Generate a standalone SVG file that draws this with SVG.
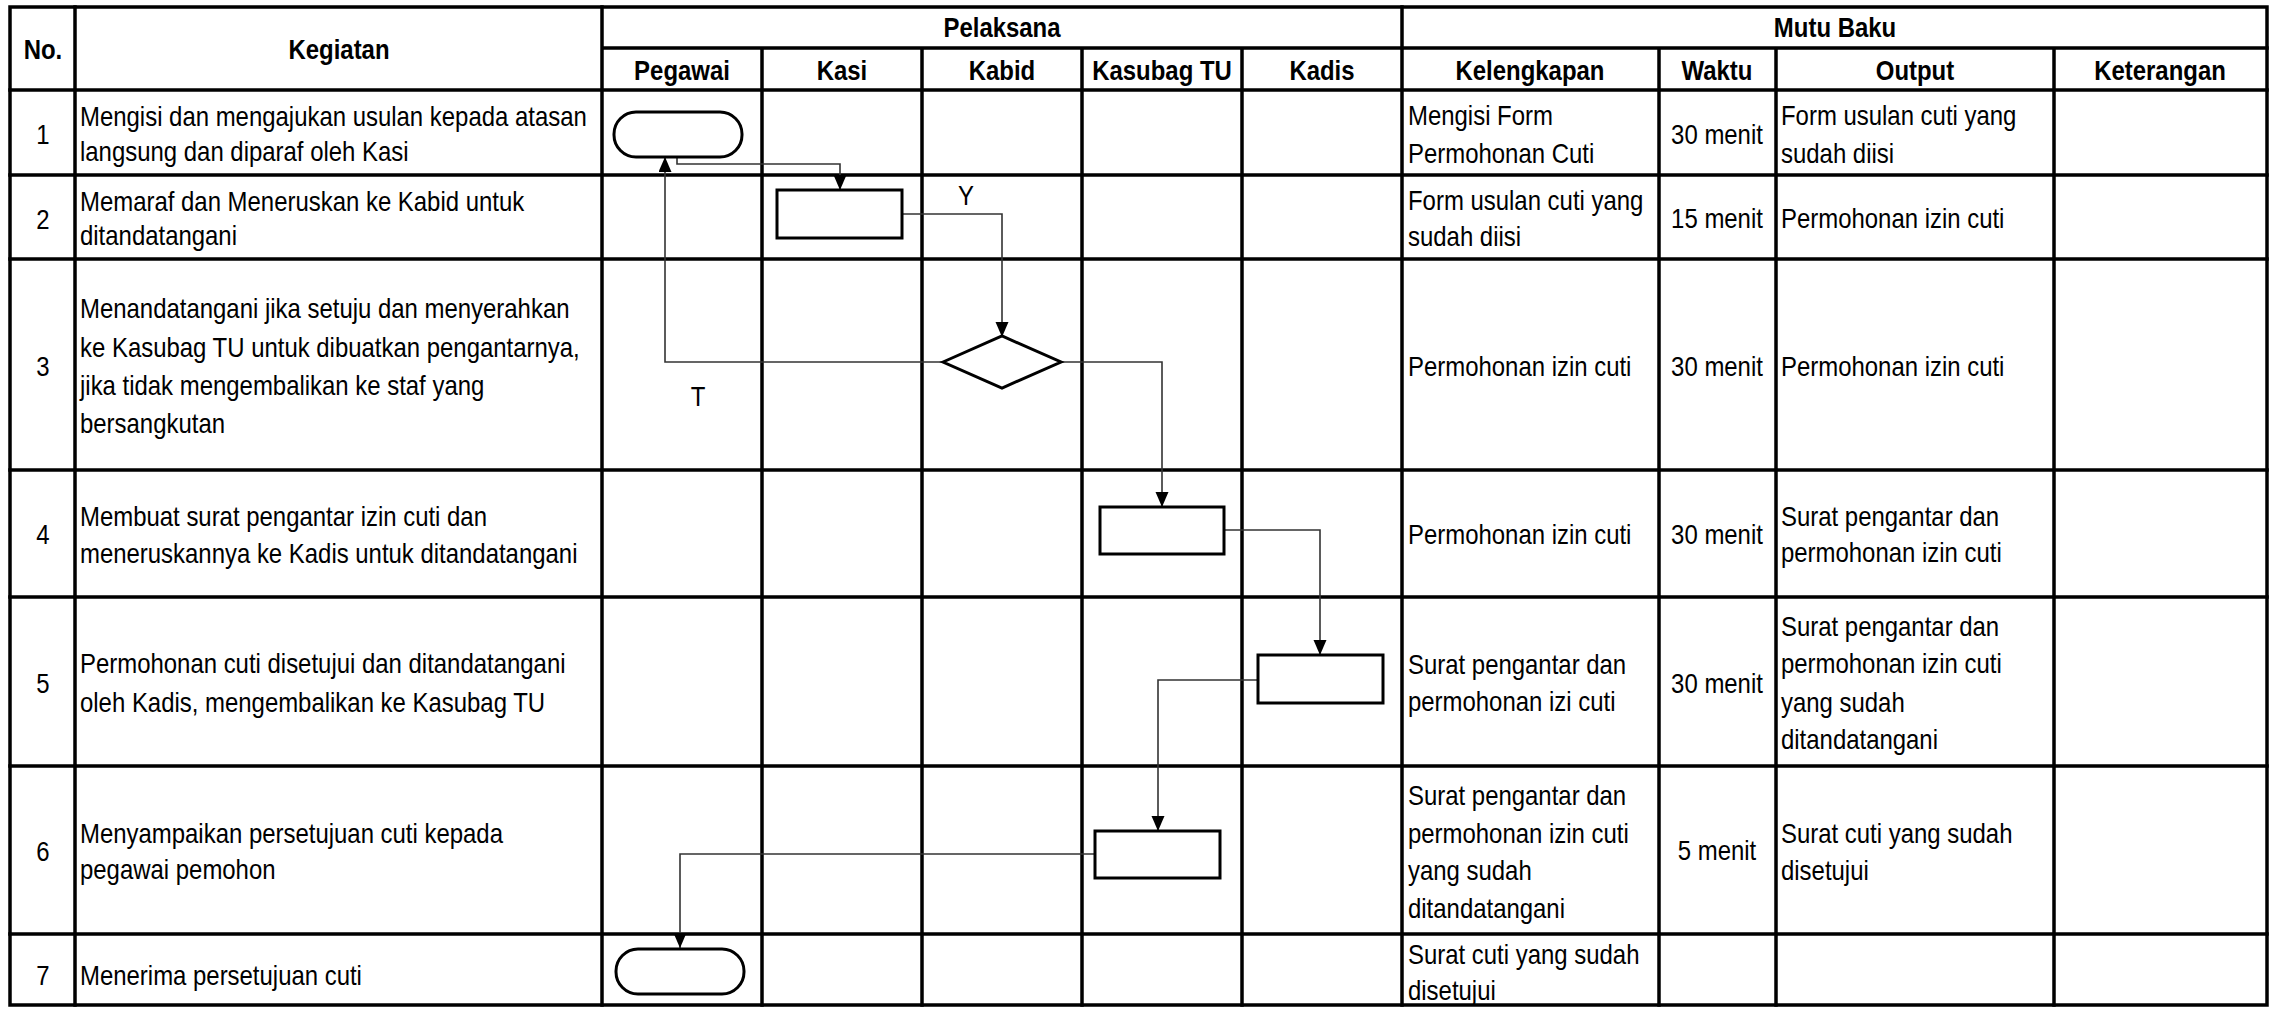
<svg xmlns="http://www.w3.org/2000/svg" width="2278" height="1009" viewBox="0 0 2278 1009">
<style>
.grid{stroke:#000;stroke-width:3.5;fill:none;stroke-linecap:square}
.t{font-family:"Liberation Sans",Arial,sans-serif;font-size:27.2px;fill:#000}
.h{font-family:"Liberation Sans",Arial,sans-serif;font-size:27.2px;font-weight:bold;fill:#000;text-anchor:middle}
.c{text-anchor:middle}
.node{fill:#fff;stroke:#000;stroke-width:3}
.conn{fill:none;stroke:#333;stroke-width:1.6}
</style>
<defs>
<marker id="arr" markerUnits="userSpaceOnUse" markerWidth="16" markerHeight="14" refX="15" refY="6.5" orient="auto">
<path d="M0,0 L15,6.5 L0,13 z" fill="#000"/>
</marker>
</defs>
<rect x="0" y="0" width="2278" height="1009" fill="#fff"/>
<g id="table">
<rect class="grid" x="10" y="7" width="2257" height="998"/>
<path class="grid" d="M75,7V1005 M602,7V1005 M1402,7V1005 M762,48V1005 M922,48V1005 M1082,48V1005 M1242,48V1005 M1659,48V1005 M1776,48V1005 M2054,48V1005 M602,48H2267 M10,90H2267 M10,175H2267 M10,259H2267 M10,470H2267 M10,597H2267 M10,766H2267 M10,934H2267"/>
<text class="h" transform="translate(43,59) scale(0.88,1)">No.</text>
<text class="h" transform="translate(339,59) scale(0.88,1)">Kegiatan</text>
<text class="h" transform="translate(1002,37) scale(0.88,1)">Pelaksana</text>
<text class="h" transform="translate(1835,37) scale(0.88,1)">Mutu Baku</text>
<text class="h" transform="translate(682,79.5) scale(0.88,1)">Pegawai</text>
<text class="h" transform="translate(842,79.5) scale(0.88,1)">Kasi</text>
<text class="h" transform="translate(1002,79.5) scale(0.88,1)">Kabid</text>
<text class="h" transform="translate(1162,79.5) scale(0.88,1)">Kasubag TU</text>
<text class="h" transform="translate(1322,79.5) scale(0.88,1)">Kadis</text>
<text class="h" transform="translate(1530,79.5) scale(0.88,1)">Kelengkapan</text>
<text class="h" transform="translate(1717,79.5) scale(0.88,1)">Waktu</text>
<text class="h" transform="translate(1915,79.5) scale(0.88,1)">Output</text>
<text class="h" transform="translate(2160,79.5) scale(0.88,1)">Keterangan</text>
<g class="t c" transform="translate(43,0) scale(0.88,1)">
<text x="0" y="144">1</text>
<text x="0" y="229">2</text>
<text x="0" y="376">3</text>
<text x="0" y="544">4</text>
<text x="0" y="693">5</text>
<text x="0" y="861">6</text>
<text x="0" y="985">7</text>
</g>
<g class="t c" transform="translate(1717,0) scale(0.88,1)">
<text x="0" y="144">30 menit</text>
<text x="0" y="228">15 menit</text>
<text x="0" y="376">30 menit</text>
<text x="0" y="544">30 menit</text>
<text x="0" y="693">30 menit</text>
<text x="0" y="860">5 menit</text>
</g>
<g class="t" transform="translate(80,0) scale(0.88,1)">
<text x="0" y="126">Mengisi dan mengajukan usulan kepada atasan</text>
<text x="0" y="161">langsung dan diparaf oleh Kasi</text>
<text x="0" y="211">Memaraf dan Meneruskan ke Kabid untuk</text>
<text x="0" y="245">ditandatangani</text>
<text x="0" y="318">Menandatangani jika setuju dan menyerahkan</text>
<text x="0" y="357">ke Kasubag TU untuk dibuatkan pengantarnya,</text>
<text x="0" y="395">jika tidak mengembalikan ke staf yang</text>
<text x="0" y="433">bersangkutan</text>
<text x="0" y="526">Membuat surat pengantar izin cuti dan</text>
<text x="0" y="563">meneruskannya ke Kadis untuk ditandatangani</text>
<text x="0" y="673">Permohonan cuti disetujui dan ditandatangani</text>
<text x="0" y="712">oleh Kadis, mengembalikan ke Kasubag TU</text>
<text x="0" y="843">Menyampaikan persetujuan cuti kepada</text>
<text x="0" y="879">pegawai pemohon</text>
<text x="0" y="985">Menerima persetujuan cuti</text>
</g>
<g class="t" transform="translate(1408,0) scale(0.88,1)">
<text x="0" y="125">Mengisi Form</text>
<text x="0" y="163">Permohonan Cuti</text>
<text x="0" y="210">Form usulan cuti yang</text>
<text x="0" y="246">sudah diisi</text>
<text x="0" y="376">Permohonan izin cuti</text>
<text x="0" y="544">Permohonan izin cuti</text>
<text x="0" y="674">Surat pengantar dan</text>
<text x="0" y="711">permohonan izi cuti</text>
<text x="0" y="805">Surat pengantar dan</text>
<text x="0" y="843">permohonan izin cuti</text>
<text x="0" y="880">yang sudah</text>
<text x="0" y="918">ditandatangani</text>
<text x="0" y="964">Surat cuti yang sudah</text>
<text x="0" y="1000">disetujui</text>
</g>
<g class="t" transform="translate(1781,0) scale(0.88,1)">
<text x="0" y="125">Form usulan cuti yang</text>
<text x="0" y="163">sudah diisi</text>
<text x="0" y="228">Permohonan izin cuti</text>
<text x="0" y="376">Permohonan izin cuti</text>
<text x="0" y="526">Surat pengantar dan</text>
<text x="0" y="562">permohonan izin cuti</text>
<text x="0" y="636">Surat pengantar dan</text>
<text x="0" y="673">permohonan izin cuti</text>
<text x="0" y="712">yang sudah</text>
<text x="0" y="749">ditandatangani</text>
<text x="0" y="843">Surat cuti yang sudah</text>
<text x="0" y="880">disetujui</text>
</g>
</g>
<g id="connectors">
<path class="conn" marker-end="url(#arr)" d="M677,157 V164 H840 V190"/>
<path class="conn" marker-end="url(#arr)" d="M902,214 H1002 V337"/>
<path class="conn" marker-end="url(#arr)" d="M943,362 H665 V157"/>
<path class="conn" marker-end="url(#arr)" d="M1060,362 H1162 V507"/>
<path class="conn" marker-end="url(#arr)" d="M1224,530 H1320 V655"/>
<path class="conn" marker-end="url(#arr)" d="M1258,680 H1158 V831"/>
<path class="conn" marker-end="url(#arr)" d="M1095,854 H680 V948"/>
<text class="t c" transform="translate(966,205) scale(0.88,1)">Y</text>
<text class="t c" transform="translate(698,406) scale(0.88,1)">T</text>
</g>
<g id="node-start"><rect class="node" x="614" y="112" width="128" height="45" rx="22" ry="22"/></g>
<g id="node-kasi"><rect class="node" x="777" y="190" width="125" height="48"/></g>
<g id="node-kabid"><path class="node" d="M943,362 L1002,336 L1061,362 L1002,388 Z"/></g>
<g id="node-kasubag1"><rect class="node" x="1100" y="507" width="124" height="47"/></g>
<g id="node-kadis"><rect class="node" x="1258" y="655" width="125" height="48"/></g>
<g id="node-kasubag2"><rect class="node" x="1095" y="831" width="125" height="47"/></g>
<g id="node-end"><rect class="node" x="616" y="949" width="128" height="45" rx="22" ry="22"/></g>
</svg>
